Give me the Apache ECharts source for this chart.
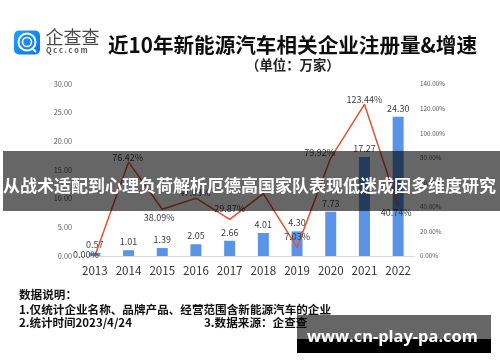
<!DOCTYPE html>
<html><head><meta charset="utf-8">
<script src="https://cdn.jsdelivr.net/npm/echarts@6/dist/echarts.min.js"></script>
<style>html,body{margin:0;padding:0;background:#fff}#c{width:500px;height:362px}</style></head>
<body><div id="c"></div>
<script>
const years=['2013','2014','2015','2016','2017','2018','2019','2020','2021','2022'];
const counts=[0.57,1.01,1.39,2.05,2.66,4.01,4.30,7.73,17.27,24.30];
const growth=[0.00,76.42,38.09,47.03,29.87,50.75,7.03,79.92,123.44,40.74];
const hiddenGrowthLabels=['2018'];
const growthLabelOffsets=[[-9,-1],[-1,-5],[-3,8],[-1,-6],[0,-11],[0,-9],[0,-11],[-11,-5],[0,-5],[-2,7]];
const cjk='"Noto Sans CJK SC","Noto Sans",sans-serif';
const chart=echarts.init(document.getElementById('c'),null,{renderer:'canvas'});
const T=(text,x,y,size,color,weight,z)=>({type:'text',z:z||50,style:{text,x,y,font:`${weight||'normal'} ${size}px ${cjk}`,fill:color||'#111',textAlign:'left',textVerticalAlign:'middle'}});
chart.setOption({
 animation:false,
 backgroundColor:'#fff',
 grid:{left:78,right:85,top:84,height:172,containLabel:false},
 xAxis:{type:'category',data:years,axisTick:{show:false},axisLine:{lineStyle:{color:'#d9d9d9',width:1}},
  axisLabel:{color:'#333',fontSize:11.6,fontFamily:cjk,margin:9,interval:0}},
 yAxis:[
  {type:'value',min:0,max:30,interval:5,splitLine:{show:false},axisLine:{show:false},axisTick:{show:false},
   axisLabel:{color:'#595959',fontSize:7.3,fontFamily:cjk,margin:6,formatter:v=>v.toFixed(2)}},
  {type:'value',min:0,max:140,interval:20,splitLine:{show:false},axisLine:{show:false},axisTick:{show:false},
   axisLabel:{color:'#595959',fontSize:6.3,fontFamily:cjk,margin:5,formatter:v=>v.toFixed(2)+'%'}}
 ],
 series:[
  {type:'bar',data:counts,barWidth:11,itemStyle:{color:'#5b94e6'},
   label:{show:true,position:'top',distance:4,color:'#404040',fontSize:9,fontFamily:cjk,formatter:p=>p.value.toFixed(2)}},
  {type:'line',yAxisIndex:1,smooth:false,symbol:'circle',symbolSize:1,
   lineStyle:{color:'#e8502f',width:1.5},itemStyle:{color:'#e8502f'},
   data:growth.map((v,i)=>({value:v,label:{show:!hiddenGrowthLabels.includes(years[i]),position:'inside',offset:growthLabelOffsets[i],color:'#404040',fontSize:9,fontFamily:cjk,formatter:p=>p.value.toFixed(2)+'%'}}))}
 ],
 graphic:{elements:[
  {type:'rect',z:50,shape:{x:14,y:30.5,width:26,height:24,r:5},style:{fill:new echarts.graphic.LinearGradient(0,0,1,1,[{offset:0,color:'#19a5ff'},{offset:1,color:'#0f6ff0'}])}},
  {type:'circle',z:51,shape:{cx:27,cy:42,r:8.5},style:{fill:'none',stroke:'#fff',lineWidth:2}},
  {type:'circle',z:51,shape:{cx:27,cy:42,r:4.5},style:{fill:'none',stroke:'#fff',lineWidth:1.6}},
  {type:'line',z:51,shape:{x1:32,y1:48,x2:36,y2:52},style:{stroke:'#fff',lineWidth:2}},
  T('企查查',45.5,37.5,18,'#4a4a4a'),
  T('Q c c . c o m',46,50,7.4,'#555','bold'),
  T('近10年新能源汽车相关企业注册量&增速',108,45.5,20.6,'#0d0d0d','bold'),
  T('（单位：万家）',246,65,13.4,'#222','bold'),
  T('数据说明：',19,295,11.6,'#111','bold'),
  T('1.仅统计企业名称、品牌产品、经营范围含新能源汽车的企业',19,310,11.6,'#111','bold'),
  T('2.统计时间2023/4/24',19,323,11.5,'#111','bold'),
  T('3.数据来源：企查查',204,323,11.6,'#111','bold'),
  {type:'rect',z:90,shape:{x:3,y:151,width:497,height:60},style:{fill:'rgba(0,0,0,0.6)'}},
  T('从战术适配到心理负荷解析厄德高国家队表现低迷成因多维度研究',3,185.5,17,'#fff','bold',91),
  {type:'rect',z:90,shape:{x:297,y:315,width:194,height:24},style:{fill:'rgba(0,0,0,0.6)'}},
  {type:'rect',z:90,shape:{x:297,y:339,width:194,height:14},style:{fill:'#000'}},
  {type:'text',z:92,style:{text:'www.cn-play-pa.com',x:307,y:337,font:'bold 16.4px "Open Sans","Noto Sans",sans-serif',fill:'#fff',textVerticalAlign:'middle'}}
 ]}
});
</script></body></html>
